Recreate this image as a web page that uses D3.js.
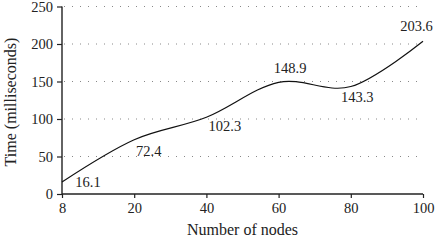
<!DOCTYPE html>
<html><head><meta charset="utf-8">
<script src="https://cdn.jsdelivr.net/npm/d3@7"></script>
<style>body{margin:0;background:#fff}svg{display:block}text{font-family:"Liberation Serif","DejaVu Serif",serif;fill:#222}</style>
</head><body>
<svg id="c" width="437" height="240"></svg>
<script>
const nodes = ["8","20","40","60","80","100"];
const times = [16.1, 72.4, 102.3, 148.9, 143.3, 203.6];
const yTicks = [0,50,100,150,200,250];
const svg = d3.select("#c");
const x = d3.scalePoint().domain(nodes).range([62,423]);
const y = d3.scaleLinear().domain([0,250]).range([194,6.5]);
const fs = "14.5px";
// grid
svg.append("g").selectAll("line").data(yTicks.filter(d=>d>0)).join("line")
  .attr("x1",64).attr("x2",423).attr("y1",d=>y(d)).attr("y2",d=>y(d))
  .attr("stroke","#888").attr("stroke-width",1).attr("stroke-dasharray","1,7");
// y axis
const ya = svg.append("g").attr("transform","translate(62,0)")
  .call(d3.axisLeft(y).tickValues(yTicks).tickSize(5).tickPadding(4));
// x axis
const xa = svg.append("g").attr("transform","translate(0,194)")
  .call(d3.axisBottom(x).tickSize(4).tickPadding(5));
[ya,xa].forEach(a=>{a.select(".domain").attr("stroke","#222").attr("stroke-width",1.4);
  a.selectAll(".tick line").attr("stroke","#222").attr("stroke-width",1.2);
  a.selectAll(".tick text").style("font-size",fs).attr("font-family",null).attr("fill","#222");});
xa.select(".domain").attr("d","M62,0H423");
ya.select(".domain").attr("d","M0,194V6.5");
// line
const line = d3.line().x((d,i)=>x(nodes[i])).y(d=>y(d)).curve(d3.curveCardinal.tension(0));
svg.append("path").datum(times).attr("d",line).attr("fill","none").attr("stroke","#111").attr("stroke-width",1.2);
// value labels
const offs = [[26,2],[14.5,13],[18.5,10],[11.5,-13],[6.5,12.5],[-6.5,-14]];
svg.append("g").selectAll("text").data(times).join("text")
  .attr("x",(d,i)=>x(nodes[i])+offs[i][0]).attr("y",(d,i)=>y(d)+offs[i][1])
  .attr("text-anchor","middle").attr("dominant-baseline","middle")
  .style("font-size",fs).text(d=>d.toFixed(1));
// titles
svg.append("text").attr("x",242.5).attr("y",231).attr("text-anchor","middle").attr("dominant-baseline","middle").style("font-size","16px").text("Number of nodes");
svg.append("text").attr("transform","translate(12,102) rotate(-90)").attr("text-anchor","middle").attr("dominant-baseline","middle").style("font-size","16px").text("Time (milliseconds)");
</script>
</body></html>
